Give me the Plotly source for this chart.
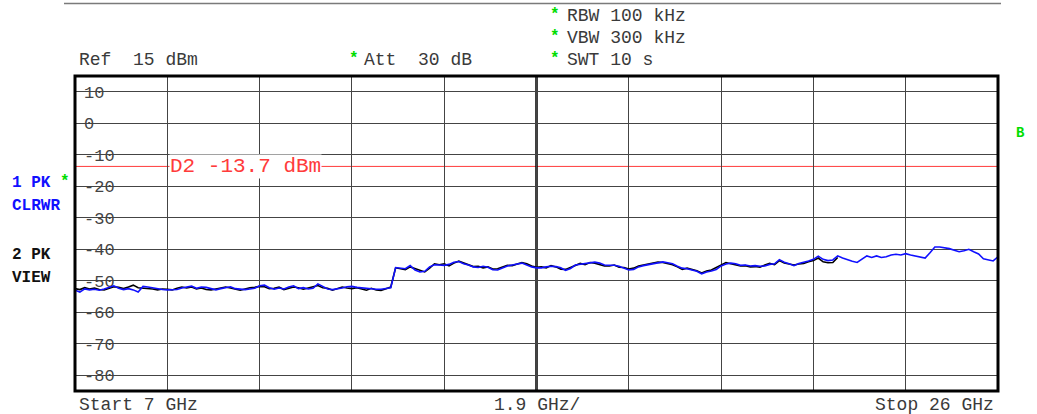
import plotly.graph_objects as go

# ---------------- data ----------------
START_GHZ = 7.0
STOP_GHZ = 26.0
STEP_GHZ = 0.1
REF_LEVEL_DBM = 15
D2_LINE_DBM = -13.7
Y_TICKS = [10, 0, -10, -20, -30, -40, -50, -60, -70, -80]
Y_TICK_TEXT = ["10", "0", "-10", "-20", "-30", "-40", "-50", "-60", "-70", "-80"]

# Trace 1 (PK, CLRWR) - blue, 7.0 ... 26.0 GHz in 0.1 GHz steps
trace1_dbm = [
    -53.0, -53.6, -52.6, -52.9, -52.7, -53.0, -52.6, -52.2, -51.6, -52.4,
    -52.8, -52.5, -52.9, -53.6, -51.8, -52.0, -52.3, -52.6, -52.8, -52.9,
    -52.8, -52.8, -52.3, -51.9, -51.7, -52.4, -52.0, -52.1, -52.6, -52.9,
    -52.5, -52.1, -51.9, -52.5, -52.7, -52.8, -52.6, -52.4, -51.6, -51.4,
    -52.2, -52.7, -52.3, -52.6, -52.0, -51.6, -52.5, -52.2, -52.6, -52.4,
    -51.0, -51.8, -52.6, -52.8, -52.6, -52.3, -51.9, -51.8, -52.1, -52.3,
    -52.5, -52.6, -52.7, -52.7, -52.4, -52.2, -45.8, -46.0, -46.2, -45.2,
    -46.6, -47.2, -47.0, -45.6, -44.9, -45.0, -45.1, -44.8, -44.1, -43.9,
    -44.6, -45.0, -45.6, -45.8, -45.4, -45.7, -46.5, -46.6, -45.9, -45.3,
    -45.0, -44.8, -44.4, -45.0, -45.6, -45.9, -45.9, -45.6, -45.4, -45.5,
    -45.9, -46.7, -46.1, -45.0, -44.8, -44.6, -44.3, -44.1, -44.4, -45.0,
    -45.1, -45.1, -45.4, -46.1, -46.6, -46.4, -45.6, -45.2, -44.9, -44.5,
    -44.2, -44.0, -44.3, -44.6, -45.4, -46.0, -46.2, -46.6, -47.0, -47.8,
    -47.2, -46.9, -46.4, -45.3, -44.7, -44.4, -44.6, -45.1, -45.0, -45.3,
    -45.2, -45.4, -45.3, -44.8, -44.6, -43.3, -44.1, -44.6, -45.2, -44.5,
    -44.2, -43.7, -43.2, -42.2, -43.2, -43.6, -43.4, -42.1, -42.8, -43.4,
    -43.8, -44.2, -43.1, -42.1, -42.6, -42.1, -42.6, -42.4, -41.8, -41.6,
    -41.8, -41.4, -41.8, -42.1, -42.6, -42.8, -41.1, -39.3, -39.3, -39.5,
    -39.8, -40.3, -40.8, -40.5, -40.0, -40.8, -41.5, -43.0, -43.4, -43.7,
    -42.4,
]

# Trace 2 (PK, VIEW) - black, 7.0 ... 22.7 GHz in 0.1 GHz steps
trace2_dbm = [
    -52.5, -52.8, -52.2, -52.6, -52.3, -52.8, -52.9, -52.4, -51.9, -52.1,
    -52.5, -52.0, -51.4, -52.2, -52.3, -52.4, -52.6, -52.9, -52.6, -52.7,
    -52.9, -52.4, -52.0, -52.3, -52.0, -52.6, -52.3, -52.8, -52.9, -52.6,
    -52.2, -52.0, -52.3, -52.7, -53.0, -52.6, -52.2, -52.1, -51.8, -51.9,
    -52.5, -52.4, -52.0, -52.8, -52.3, -52.0, -52.2, -52.7, -52.3, -51.8,
    -51.5, -52.2, -52.4, -53.0, -52.4, -52.0, -52.3, -52.5, -52.2, -52.6,
    -53.0, -52.4, -52.9, -53.1, -52.5, -52.0, -45.9, -46.2, -46.5, -45.6,
    -46.2, -46.8, -47.2, -46.0, -44.6, -44.9, -44.6, -45.3, -44.4, -43.8,
    -44.3, -44.8, -45.5, -45.4, -45.9, -45.6, -46.3, -46.2, -45.6, -45.1,
    -45.2, -44.6, -44.2, -44.6, -45.3, -45.7, -45.6, -45.9, -45.2, -45.6,
    -46.3, -46.4, -45.7, -45.2, -44.5, -44.9, -44.2, -44.4, -44.9, -45.3,
    -45.3, -45.0, -45.7, -45.8, -46.3, -46.0, -45.3, -45.0, -44.6, -44.3,
    -44.1, -44.2, -44.6, -44.9, -45.6, -46.4, -46.0, -46.3, -46.8, -47.5,
    -46.9, -46.6, -45.8, -44.8, -44.2, -44.6, -45.0, -45.3, -45.2, -45.6,
    -45.5, -45.7, -45.0, -44.5, -44.9, -43.6, -44.4, -44.8, -45.0, -44.7,
    -44.5, -44.0, -43.6, -42.8, -44.0, -44.3, -44.2, -42.6,
]

freq1_ghz = [round(START_GHZ + STEP_GHZ * i, 2) for i in range(len(trace1_dbm))]
freq2_ghz = [round(START_GHZ + STEP_GHZ * i, 2) for i in range(len(trace2_dbm))]

# ---------------- layout geometry ----------------
W, H = 1037, 414
L, R, T, B = 75, 39, 76, 23
PW, PH = W - L - R, H - T - B


def px(x):
    return (x - L) / PW


def py(y):
    return 1 - (y - T) / PH


MONO = "Liberation Mono, Courier New, monospace"
TXT = "#3a3a3a"
GREEN = "#00dd00"
BLUE = "#1010ff"
TICK_SIZE = 17
LABEL_X = 84

fig = go.Figure()
fig.add_trace(go.Scatter(x=freq2_ghz, y=trace2_dbm, mode="lines",
                         line=dict(color="#000000", width=1.6), hoverinfo="skip"))
fig.add_trace(go.Scatter(x=freq1_ghz, y=trace1_dbm, mode="lines",
                         line=dict(color=BLUE, width=1.6), hoverinfo="skip"))

shapes = []
# white gaps in the grid lines behind the level labels (between grid and traces)
for v, s in zip(Y_TICKS, Y_TICK_TEXT):
    w = len(s) * 0.6 * TICK_SIZE
    shapes.append(dict(type="rect", xref="paper", yref="y",
                       x0=px(LABEL_X), x1=px(LABEL_X + w + 2),
                       y0=v - 2.0, y1=v + 2.0,
                       line=dict(width=0), fillcolor="white", layer="between"))
# display line D2
shapes.append(dict(type="line", xref="paper", yref="y", x0=0, x1=1,
                   y0=D2_LINE_DBM, y1=D2_LINE_DBM,
                   line=dict(color="#ff3b3b", width=1), layer="between"))
# center vertical line
center = (START_GHZ + STOP_GHZ) / 2
shapes.append(dict(type="line", xref="x", yref="paper", x0=center, x1=center,
                   y0=0, y1=1, line=dict(color="#000000", width=2.5), layer="between"))
# frame
shapes.append(dict(type="rect", xref="paper", yref="paper", x0=0, x1=1, y0=0, y1=1,
                   line=dict(color="#000000", width=3), layer="above"))
# top rule line
shapes.append(dict(type="line", xref="paper", yref="paper", x0=px(64), x1=px(1001),
                   y0=py(3.5), y1=py(3.5), line=dict(color="#7a7a7a", width=1.5)))

ann = []


def text(x, y, s, size=18, color=TXT, anchor="left", bold=False):
    ann.append(dict(x=px(x), y=py(y), xref="paper", yref="paper", text=s,
                    showarrow=False, xanchor=anchor, yanchor="middle",
                    font=dict(family=MONO, size=size, color=color,
                              weight="bold" if bold else "normal")))


# header
text(77, 60, "Ref  15 dBm")
text(347, 59, "*", size=16, color=GREEN, bold=True)
text(362, 60, "Att  30 dB")
text(548, 15, "*", size=16, color=GREEN, bold=True)
text(565, 16, "RBW 100 kHz")
text(548, 37, "*", size=16, color=GREEN, bold=True)
text(565, 38, "VBW 300 kHz")
text(548, 59, "*", size=16, color=GREEN, bold=True)
text(565, 60, "SWT 10 s")

# left side trace info
text(10, 183, "1 PK", size=16, color=BLUE, bold=True)
text(58, 182, "*", size=16, color=GREEN, bold=True)
text(10, 206, "CLRWR", size=16, color=BLUE, bold=True)
text(10, 255, "2 PK", size=16, color="#111111", bold=True)
text(10, 278, "VIEW", size=16, color="#111111", bold=True)
text(1014, 133, "B", size=14, color=GREEN, bold=True)

# footer
text(77, 405, "Start 7 GHz")
text(537, 405, "1.9 GHz/", anchor="center")
text(996, 405, "Stop 26 GHz", anchor="right")

# D2 label
ann.append(dict(x=px(169), y=D2_LINE_DBM, xref="paper", yref="y",
                text="D2 -13.7 dBm", showarrow=False, xanchor="left", yanchor="middle",
                bgcolor="white", borderpad=0,
                font=dict(family=MONO, size=21, color="#ff3b3b")))

fig.update_layout(
    width=W, height=H, margin=dict(l=L, r=R, t=T, b=B),
    paper_bgcolor="white", plot_bgcolor="white", showlegend=False,
    shapes=shapes, annotations=ann,
    xaxis=dict(range=[START_GHZ, STOP_GHZ], tick0=START_GHZ, dtick=1.9,
               showgrid=True, gridcolor="#444444", gridwidth=1,
               showticklabels=False, zeroline=False, showline=False, ticks=""),
    yaxis=dict(range=[-85, REF_LEVEL_DBM], tickmode="array", tickvals=Y_TICKS,
               ticktext=Y_TICK_TEXT, showticklabels=True,
               ticklabelposition="inside", ticklabelstandoff=6,
               tickfont=dict(family=MONO, size=TICK_SIZE, color="#444444"),
               layer="below traces",
               showgrid=True, gridcolor="#444444", gridwidth=1,
               zeroline=False, showline=False, ticks=""),
)

fig.write_html("out.html", config={"displayModeBar": False},
               post_script="document.body.style.margin='0';document.body.style.overflow='hidden';")
